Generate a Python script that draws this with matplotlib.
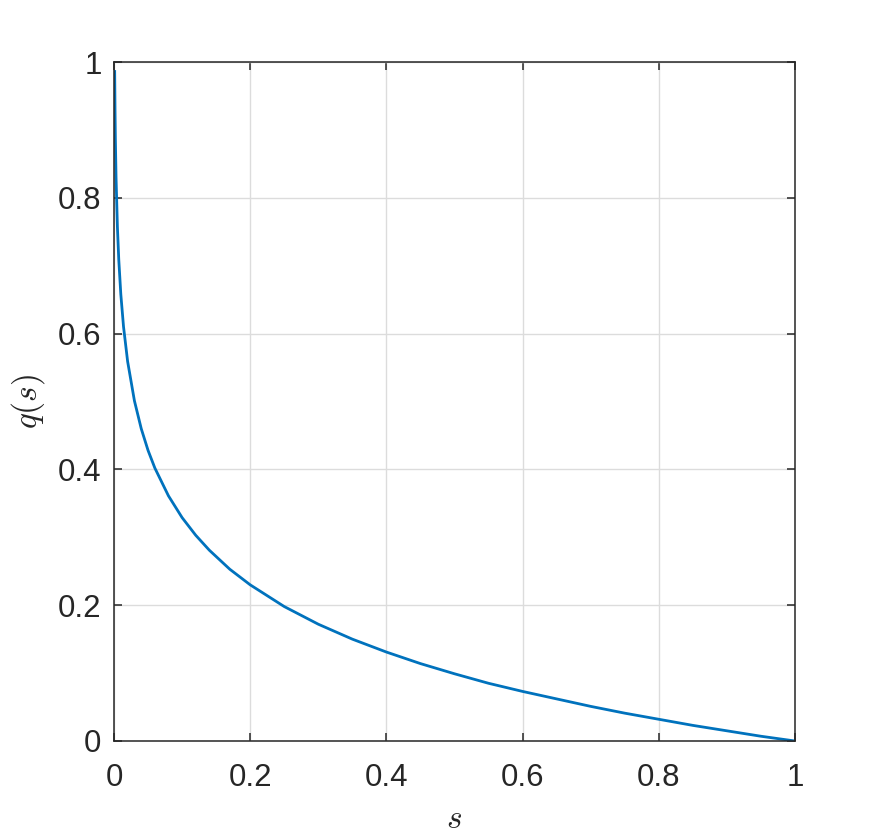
import numpy as np
import matplotlib.pyplot as plt

# values
s = [0.001, 0.0015, 0.002, 0.003, 0.005, 0.007, 0.01, 0.014, 0.02, 0.03, 0.04,
     0.05, 0.06, 0.08, 0.1, 0.12, 0.14, 0.17, 0.2, 0.25, 0.3, 0.35, 0.4, 0.45,
     0.5, 0.55, 0.6, 0.65, 0.7, 0.75, 0.8, 0.85, 0.9, 0.95, 1.0]
q = [0.986, 0.930, 0.888, 0.830, 0.757, 0.709, 0.658, 0.610, 0.559, 0.501, 0.460,
     0.428, 0.402, 0.361, 0.329, 0.303, 0.281, 0.253, 0.230, 0.198, 0.172, 0.150,
     0.131, 0.114, 0.099, 0.085, 0.073, 0.062, 0.051, 0.041, 0.032, 0.023, 0.015,
     0.007, 0.0]

xticks = [0, 0.2, 0.4, 0.6, 0.8, 1]
yticks = [0, 0.2, 0.4, 0.6, 0.8, 1]
ticklabels = ['0', '0.2', '0.4', '0.6', '0.8', '1']

plt.rcParams['font.family'] = ['Liberation Sans', 'DejaVu Sans']
plt.rcParams['mathtext.fontset'] = 'cm'

fig = plt.figure(figsize=(8.8, 8.4), dpi=100)
ax = fig.add_axes([114 / 880, 99 / 840, 681 / 880, 679 / 840])

ax.plot(s, q, color='#0072BD', linewidth=2.0)

ax.set_xlim(0, 1)
ax.set_ylim(0, 1)
ax.set_xticks(xticks)
ax.set_yticks(yticks)
ax.set_xticklabels(ticklabels)
ax.set_yticklabels(ticklabels)

ax.grid(True, color='#DCDCDC', linewidth=1.0)
ax.set_axisbelow(True)
for sp in ax.spines.values():
    sp.set_color('#262626')
    sp.set_linewidth(1.1)
ax.tick_params(direction='in', length=6, width=1.1, colors='#262626',
               labelsize=22.5, top=True, right=True)
ax.tick_params(axis='x', pad=16)
ax.tick_params(axis='y', pad=9)

ax.set_xlabel('$s$', fontsize=24, color='#262626', labelpad=8)
ax.set_ylabel('$q(s)$', fontsize=24, color='#262626', labelpad=8)

fig.savefig('out.png', dpi=100)
